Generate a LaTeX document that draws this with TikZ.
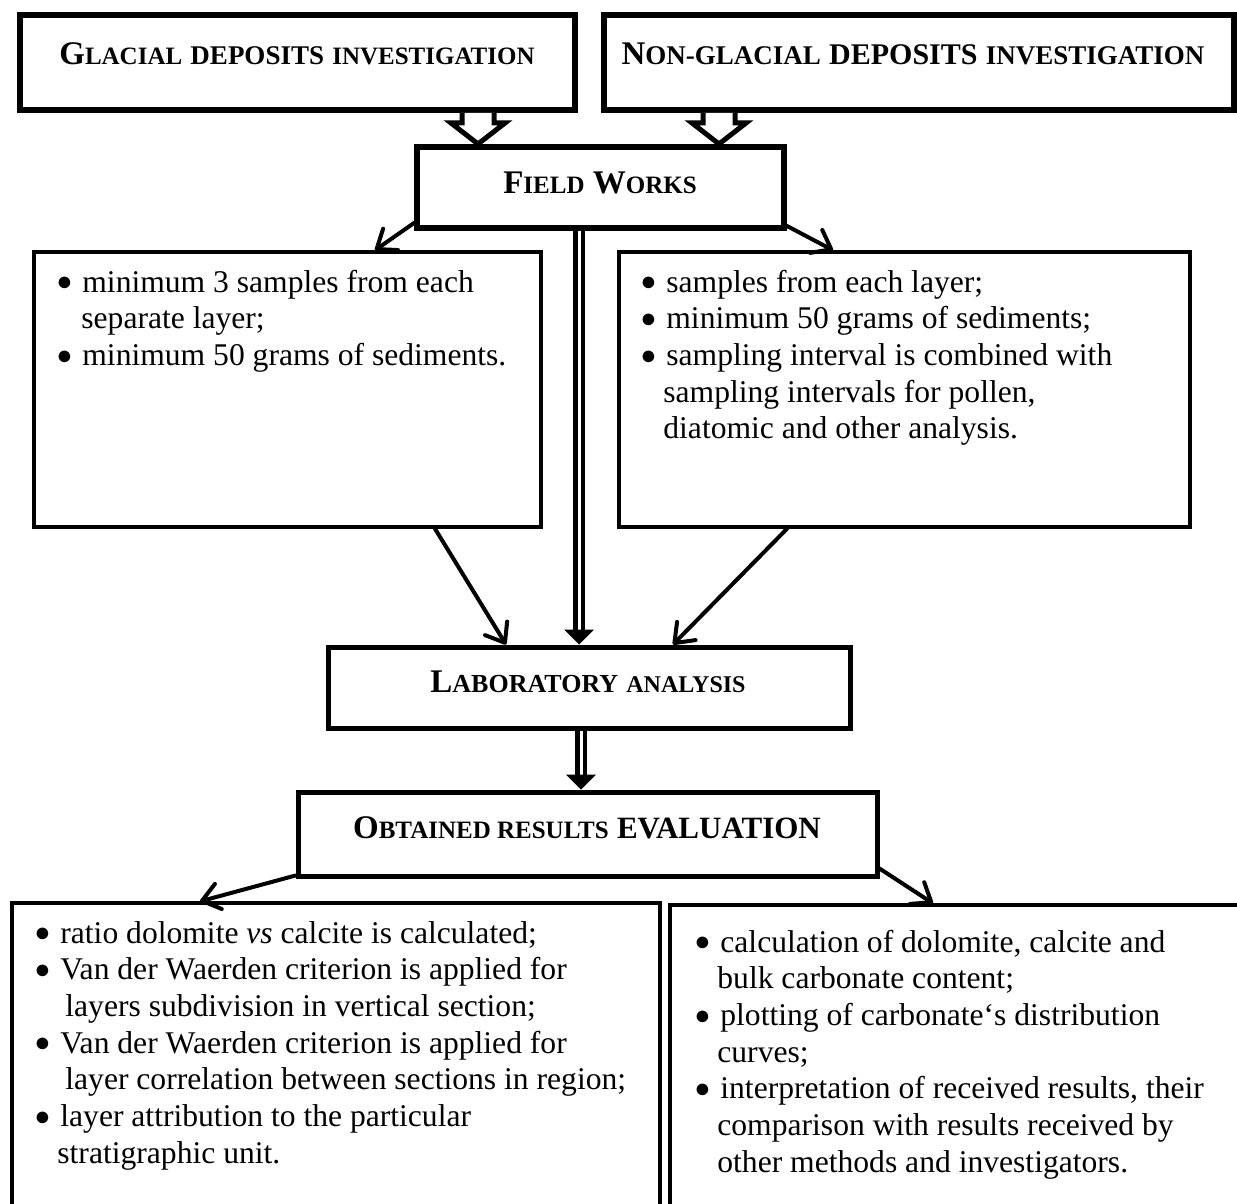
\documentclass[tikz,border=0pt]{standalone}
\usepackage{fontspec}
\setmainfont{Liberation Serif}
\usetikzlibrary{fit,calc,arrows.meta}
\newcommand{\fs}[2]{{\fontsize{#1}{14pt}\selectfont #2}}
\newcommand{\SC}[1]{{\fontsize{12.5pt}{14pt}\selectfont #1}}
\newcommand{\bul}{\makebox[13pt][l]{{\fontsize{13.5pt}{0pt}\selectfont\raisebox{0.6pt}{●}}}}
\newcommand{\ind}[1]{\hspace*{#1}}
\begin{document}
\begin{tikzpicture}[x=0.5pt,y=-0.5pt,
  thickbox/.style={draw, line width=3pt, inner sep=0pt},
  midbox/.style={draw, line width=2.5pt, inner sep=0pt},
  thinbox/.style={draw, line width=1.75pt, inner sep=0pt},
  lowbox/.style={draw, line width=1.6pt, inner sep=0pt},
  head/.style={font=\fontsize{16.5pt}{19pt}\selectfont\bfseries, inner sep=0pt, anchor=base},
  body/.style={inner sep=0pt, anchor=base west, font=\fontsize{15.8pt}{18.35pt}\selectfont},
  arr/.style={line width=2pt, line cap=round, line join=round, -{Straight Barb[length=8.5pt,width=13pt,round]}},
  hollow/.style={draw, line width=2.5pt, fill=white, line join=miter},
  dbl/.style={double=white, double distance=1.5pt, line width=2.2pt},
  tri/.style={fill=black}]
\useasboundingbox (0,0) rectangle (1237,1204);
\clip (0,0) rectangle (1237,1204);

% boxes
\node[thickbox, fit={(20,15)(575,110)}] (glac) {};
\node[head] (glact) at (297,65) {G\fs{12.5pt}{LACIAL} \fs{13.5pt}{DEPOSITS} \fs{12.5pt}{INVESTIGATION}};
\node[thickbox, fit={(604,15)(1234,110)}] (nong) {};
\node[head] (nongt) at (913,65) {N\fs{13.5pt}{ON-GLACIAL} \fs{15pt}{DEPOSITS} \fs{13.5pt}{INVESTIGATION}};
\node[thickbox, fit={(417,147)(784,228)}] (fw) {};
\node[head] (fwt) at (600,193) {F\SC{IELD} W\SC{ORKS}};

\node[thinbox, fit={(34,252)(541,527)}] (lb) {};
\node[thinbox, fit={(619,252)(1190,527)}] (rb) {};
\node[body] (lbt) at (56,292) {\parbox[t]{240pt}{\bul minimum 3 samples from each\\\ind{12.5pt}separate layer;\\\bul minimum 50 grams of sediments.}};
\node[body] (rbt) at (640,292) {\parbox[t]{270pt}{\bul samples from each layer;\\\bul minimum 50 grams of sediments;\\\bul sampling interval is combined with\\\ind{11.5pt}sampling intervals for pollen,\\\ind{11.5pt}diatomic and other analysis.}};

\node[midbox, fit={(328,647)(850,728)}] (lab) {};
\node[head] (labt) at (588,692) {L{\fontsize{13pt}{14pt}\selectfont ABORATORY} {\fontsize{12pt}{14pt}\selectfont ANALYSIS}};
\node[midbox, fit={(298,792)(877,876)}] (ob) {};
\node[head] (obt) at (587,838) {O\SC{BTAINED RESULTS} \fs{15.5pt}{EVALUATION}};

\node[lowbox, fit={(12,903)(660,1225)}] (bl) {};
\node[lowbox, fit={(670,905)(1250,1225)}] (br) {};
\node[body] (blt) at (34,943) {\parbox[t]{310pt}{\bul ratio dolomite \textit{vs} calcite is calculated;\\\bul Van der Waerden criterion is applied for\\\ind{15.5pt}layers subdivision in vertical section;\\\bul Van der Waerden criterion is applied for\\\ind{15.5pt}layer correlation between sections in region;\\\bul layer attribution to the particular\\\ind{11.5pt}stratigraphic unit.}};
\node[body] (brt) at (694,952) {\parbox[t]{290pt}{\bul calculation of dolomite, calcite and\\\ind{11.5pt}bulk carbonate content;\\\bul plotting of carbonate‘s distribution\\\ind{11.5pt}curves;\\\bul interpretation of received results, their\\\ind{11.5pt}comparison with results received by\\\ind{11.5pt}other methods and investigators.}};

% reference x positions
\coordinate (c478) at (478,0);
\coordinate (c719) at (719,0);
\coordinate (c579) at (579,0);
\coordinate (c581) at (581,0);
\coordinate (x375) at (375,0);
\coordinate (x833) at (833,0);
\coordinate (x435) at (435,0);
\coordinate (x506) at (506,0);
\coordinate (x787) at (787,0);
\coordinate (x673) at (673,0);
\coordinate (x200) at (200,0);
\coordinate (x933) at (933,0);

% hollow arrows
\draw[hollow] let \p1=(glac.south -| c478), \p2=(fw.north -| c478) in
  (\x1-8pt,\y1) -- (\x1-8pt,\y2+10.5pt) -- (\x1-13.5pt,\y2+10.5pt) -- (\x2,\y2)
  -- (\x1+13.5pt,\y2+10.5pt) -- (\x1+8pt,\y2+10.5pt) -- (\x1+8pt,\y1);
\draw[hollow] let \p1=(nong.south -| c719), \p2=(fw.north -| c719) in
  (\x1-8pt,\y1) -- (\x1-8pt,\y2+10.5pt) -- (\x1-13.5pt,\y2+10.5pt) -- (\x2,\y2)
  -- (\x1+13.5pt,\y2+10.5pt) -- (\x1+8pt,\y2+10.5pt) -- (\x1+8pt,\y1);

% double arrows
\draw[dbl] (fw.south -| c579) -- ($(lab.north -| c579)+(0,-12)$);
\fill[tri] ($(lab.north -| c579)+(-15,-15)$) -- (lab.north -| c579) -- ($(lab.north -| c579)+(15,-15)$) -- cycle;
\draw[dbl] (lab.south -| c581) -- ($(ob.north -| c581)+(0,-12)$);
\fill[tri] ($(ob.north -| c581)+(-15,-15)$) -- (ob.north -| c581) -- ($(ob.north -| c581)+(15,-15)$) -- cycle;

% thin arrows
\draw[arr] ($(fw.south west)+(0,-8)$) -- (lb.north -| x375);
\draw[arr] ($(fw.south east)+(0,-5)$) -- (rb.north -| x833);
\draw[arr] (lb.south -| x435) -- (lab.north -| x506);
\draw[arr] (rb.south -| x787) -- (lab.north -| x673);
\draw[arr] ($(ob.south west)+(0,-3)$) -- (bl.north -| x200);
\draw[arr] ($(ob.south east)+(0,-10)$) -- (br.north -| x933);
\end{tikzpicture}
\end{document}
